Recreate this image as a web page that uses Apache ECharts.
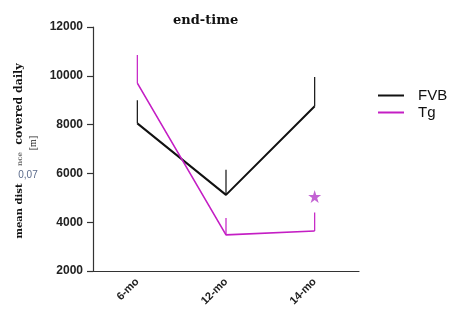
<!DOCTYPE html>
<html>
<head>
<meta charset="utf-8">
<script src="https://cdn.jsdelivr.net/npm/echarts@6/dist/echarts.min.js"></script>
<style>
  html, body { margin: 0; padding: 0; background: #fff; }
  #chart { width: 450px; height: 320px; }
</style>
</head>
<body>
<div id="chart"></div>
<script>
// Time points
const categories = ['6-mo', '12-mo', '14-mo'];
// Mean daily distance [m] per group
const fvbMean = [8050, 5120, 8750];
const tgMean = [9700, 3480, 3640];
// Upper end of the error bars (mean + SEM)
const fvbUpper = [9000, 6150, 9950];
const tgUpper = [10850, 4170, 4400];
// Significance marker above Tg at 14-mo
const starPoint = [[2, 5050]];
// Y-axis range
const yMin = 2000, yMax = 12000, yStep = 2000;

const chart = echarts.init(document.getElementById('chart'));

function errBar(color, width) {
  return function (params, api) {
    const p0 = api.coord([api.value(0), api.value(1)]);
    const p1 = api.coord([api.value(0), api.value(2)]);
    return {
      type: 'line',
      shape: { x1: p0[0], y1: p0[1], x2: p1[0], y2: p1[1] },
      style: { stroke: color, lineWidth: width }
    };
  };
}

const FVB_COLOR = '#111111';
const TG_COLOR = '#c41ec4';

chart.setOption({
  animation: false,
  title: {
    text: 'end-time',
    left: 168,
    top: 9,
    textStyle: { fontFamily: 'DejaVu Serif', fontWeight: 'bold', fontSize: 13, color: '#111' }
  },
  grid: { left: 93, right: 91, top: 27, bottom: 49 },
  legend: {
    orient: 'vertical',
    left: 373,
    top: 83,
    padding: 5,
    icon: 'rect',
    itemWidth: 26,
    itemHeight: 2,
    itemGap: 2,
    data: ['FVB', 'Tg'],
    textStyle: { fontFamily: 'Liberation Sans', fontSize: 15, color: '#111', padding: [0, 0, 0, 9] }
  },
  xAxis: {
    type: 'category',
    data: categories,
    boundaryGap: true,
    axisLine: { lineStyle: { color: '#333', width: 1.2 } },
    axisTick: { alignWithLabel: true, length: 6, lineStyle: { color: '#333', width: 1.2 } },
    axisLabel: {
      rotate: 45, margin: 9,
      fontFamily: 'Liberation Sans', fontWeight: 'bold', fontSize: 11, color: '#222'
    }
  },
  yAxis: {
    type: 'value',
    min: yMin, max: yMax, interval: yStep,
    splitLine: { show: false },
    axisLine: { show: true, lineStyle: { color: '#333', width: 1.2 } },
    axisTick: { show: true, length: 6, lineStyle: { color: '#333', width: 1.2 } },
    axisLabel: {
      margin: 10,
      formatter: v => String(v),
      fontFamily: 'Liberation Sans', fontWeight: 'bold', fontSize: 12, color: '#222'
    }
  },
  graphic: [
    {
      type: 'text', x: 19, y: 104, rotation: Math.PI / 2,
      style: { text: 'covered daily', font: 'bold 11px "DejaVu Serif"', fill: '#111',
               textAlign: 'center', textVerticalAlign: 'middle' }
    },
    {
      type: 'text', x: 20, y: 159, rotation: Math.PI / 2,
      style: { text: 'nce', font: 'bold 7px "DejaVu Serif"', fill: '#777',
               textAlign: 'center', textVerticalAlign: 'middle' }
    },
    {
      type: 'text', x: 19, y: 211, rotation: Math.PI / 2,
      style: { text: 'mean dist', font: 'bold 10px "DejaVu Serif"', fill: '#111',
               textAlign: 'center', textVerticalAlign: 'middle' }
    },
    {
      type: 'text', x: 33, y: 143, rotation: Math.PI / 2,
      style: { text: '[m]', font: '10px "Liberation Serif"', fill: '#222',
               textAlign: 'center', textVerticalAlign: 'middle' }
    },
    {
      type: 'text', x: 28, y: 175,
      style: { text: '0,07', font: '10px "Liberation Sans"', fill: '#5a6a8a',
               textAlign: 'center', textVerticalAlign: 'middle' }
    }
  ],
  series: [
    {
      name: 'FVB', type: 'line', data: fvbMean, symbol: 'none',
      lineStyle: { color: FVB_COLOR, width: 2 }, itemStyle: { color: FVB_COLOR }, z: 3
    },
    {
      name: 'Tg', type: 'line', data: tgMean, symbol: 'none',
      lineStyle: { color: TG_COLOR, width: 1.6 }, itemStyle: { color: TG_COLOR }, z: 3
    },
    {
      type: 'custom', renderItem: errBar(FVB_COLOR, 1.2),
      data: fvbMean.map((v, i) => [i, v, fvbUpper[i]]), z: 2
    },
    {
      type: 'custom', renderItem: errBar(TG_COLOR, 1.2),
      data: tgMean.map((v, i) => [i, v, tgUpper[i]]), z: 2
    },
    {
      type: 'scatter', data: starPoint, symbol: 'path://M50,0 L61.8,35.4 L100,35.4 L69.1,57.3 L80.9,95.1 L50,73.2 L19.1,95.1 L30.9,57.3 L0,35.4 L38.2,35.4 Z',
      symbolSize: 13, itemStyle: { color: '#b43cc8' }
    }
  ]
});
</script>
</body>
</html>
